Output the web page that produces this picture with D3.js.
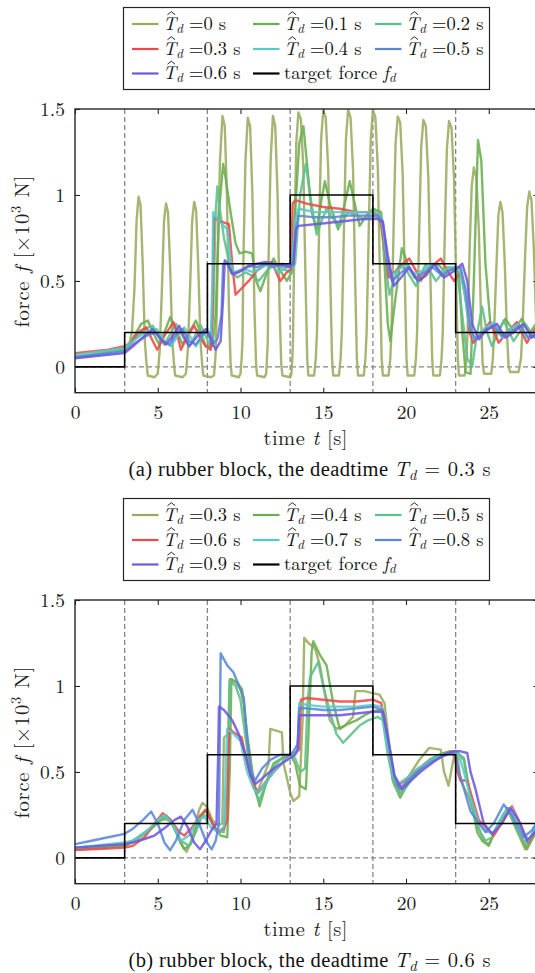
<!DOCTYPE html>
<html><head><meta charset="utf-8">
<script src="https://cdn.jsdelivr.net/npm/d3@7"></script>
<style>body{margin:0;background:#fff}svg{display:block}</style>
</head><body><svg id="c" width="535" height="973"></svg>
<script>
// ---------- data ----------
const xTicks = [0, 5, 10, 15, 20, 25];
const yTicks = [0, 0.5, 1, 1.5];
const yTickLabels = ["0", "0.5", "1", "1.5"];
const stepTimes = [3, 8, 13, 18, 23];
const targetT = [0, 3, 8, 13, 18, 23, 28];
const targetF = [0, 0.2, 0.6, 1.0, 0.6, 0.2, 0.2];
const seriesColors = ["#9aab5e", "#69ae4f", "#5dbf8b", "#f04848", "#56c9c9", "#5887d8", "#7058e0"];
const labelsA = ["0", "0.1", "0.2", "0.3", "0.4", "0.5", "0.6"];
const labelsB = ["0.3", "0.4", "0.5", "0.6", "0.7", "0.8", "0.9"];
const captionA = "0.3";
const captionB = "0.6";

// panel (a)
const aTd00 = [[0,0.06],[1,0.07],[2,0.09],[3,0.11],[3.3,0.14],[3.44,0.2],[3.59,0.45],[3.72,0.85],[3.84,0.99],[3.96,0.94],[4.09,0.6],[4.22,0.15],[4.32,0.02],[4.4,-0.05],[4.8,-0.06],[5.0,-0.04],[5.08,0.05],[5.12,0.1],[5.25,0.45],[5.38,0.85],[5.5,0.95],[5.62,0.9],[5.75,0.58],[5.88,0.15],[5.98,0.02],[6.05,-0.05],[6.5,-0.06],[6.7,-0.04],[6.78,0.05],[6.82,0.1],[6.95,0.45],[7.08,0.85],[7.2,0.96],[7.32,0.91],[7.45,0.58],[7.58,0.15],[7.68,0.02],[7.75,-0.05],[8.2,-0.06],[8.4,-0.05],[8.48,0.05],[8.52,0.12],[8.62,0.6],[8.76,1.2],[8.91,1.46],[9.05,1.4],[9.18,1.0],[9.3,0.35],[9.4,0.02],[9.47,-0.05],[9.9,-0.06],[10.0,-0.04],[10.07,0.05],[10.12,0.15],[10.17,0.6],[10.3,1.2],[10.44,1.45],[10.58,1.4],[10.72,1.0],[10.84,0.35],[10.94,0.02],[11.0,-0.05],[11.45,-0.06],[11.55,-0.04],[11.6,0.05],[11.65,0.15],[11.69,0.6],[11.82,1.2],[11.96,1.46],[12.1,1.4],[12.24,1.0],[12.36,0.35],[12.46,0.02],[12.53,-0.05],[13.0,-0.06],[13.08,-0.04],[13.13,0.05],[13.17,0.15],[13.25,0.7],[13.37,1.3],[13.5,1.48],[13.65,1.44],[13.8,1.15],[13.93,0.5],[14.03,0.05],[14.1,-0.05],[14.45,-0.05],[14.55,0.05],[14.62,0.2],[14.75,0.8],[14.87,1.32],[15.0,1.49],[15.15,1.45],[15.3,1.15],[15.43,0.5],[15.53,0.05],[15.6,-0.05],[15.95,-0.05],[16.05,0.05],[16.12,0.2],[16.25,0.8],[16.37,1.32],[16.5,1.495],[16.65,1.45],[16.8,1.15],[16.93,0.5],[17.03,0.05],[17.1,-0.05],[17.45,-0.05],[17.55,0.05],[17.62,0.2],[17.75,0.8],[17.87,1.32],[18.0,1.495],[18.15,1.45],[18.3,1.15],[18.43,0.5],[18.53,0.05],[18.6,-0.05],[18.95,-0.05],[19.05,0.05],[19.12,0.2],[19.25,0.8],[19.37,1.3],[19.5,1.456],[19.65,1.42],[19.8,1.12],[19.93,0.5],[20.03,0.05],[20.1,-0.05],[20.5,-0.05],[20.6,0.05],[20.67,0.2],[20.8,0.8],[20.92,1.28],[21.05,1.437],[21.2,1.4],[21.35,1.1],[21.48,0.5],[21.58,0.05],[21.65,-0.05],[22.05,-0.05],[22.15,0.05],[22.22,0.2],[22.35,0.8],[22.47,1.27],[22.6,1.43],[22.75,1.39],[22.9,1.1],[23.03,0.5],[23.13,0.05],[23.2,-0.05],[23.55,-0.05],[23.65,0.05],[23.72,0.2],[23.85,0.7],[23.97,1.05],[24.1,1.16],[24.25,1.1],[24.4,0.8],[24.53,0.3],[24.63,0.02],[24.72,-0.04],[25.15,-0.04],[25.25,0.05],[25.32,0.2],[25.47,0.6],[25.58,0.88],[25.7,0.96],[25.83,0.9],[25.97,0.6],[26.1,0.2],[26.2,0.0],[26.3,-0.03],[26.8,-0.03],[26.95,0.05],[27.05,0.25],[27.2,0.65],[27.32,0.93],[27.45,1.02],[27.58,0.97],[27.72,0.7],[27.85,0.3],[27.95,0.05],[28,0.0]];
const aTd01 = [[0,0.06],[1,0.07],[2,0.085],[3,0.1],[3.4,0.15],[4.0,0.25],[4.4,0.27],[4.7,0.2],[5.1,0.13],[5.4,0.2],[5.75,0.29],[6.1,0.22],[6.5,0.13],[6.9,0.2],[7.3,0.27],[7.6,0.2],[7.9,0.12],[8.3,0.12],[8.5,0.3],[8.7,0.9],[8.95,1.18],[9.1,1.1],[9.4,0.9],[9.7,0.72],[9.95,0.66],[10.3,0.67],[10.7,0.66],[10.95,0.5],[11.2,0.44],[11.6,0.55],[12.0,0.63],[12.4,0.56],[12.8,0.5],[13.1,0.55],[13.3,0.9],[13.55,1.3],[13.8,1.4],[14.0,1.2],[14.3,0.9],[14.6,0.8],[14.85,0.95],[15.1,1.08],[15.4,0.95],[15.9,0.8],[16.3,0.95],[16.6,1.08],[16.9,0.95],[17.2,0.82],[17.6,0.88],[18.0,0.92],[18.5,0.9],[18.7,0.6],[18.9,0.25],[19.05,0.15],[19.3,0.35],[19.75,0.69],[20.1,0.6],[20.5,0.52],[20.9,0.5],[21.4,0.58],[21.9,0.6],[22.4,0.55],[22.9,0.58],[23.2,0.55],[23.4,0.2],[23.6,-0.03],[23.9,-0.04],[24.1,0.5],[24.35,1.32],[24.55,1.2],[24.8,0.6],[25.1,0.25],[25.5,0.2],[26.0,0.28],[26.5,0.21],[27.0,0.28],[27.5,0.2],[28,0.27]];
const aTd02 = [[0,0.06],[3,0.1],[3.5,0.15],[4.2,0.22],[4.7,0.24],[5.0,0.19],[5.4,0.13],[5.8,0.2],[6.1,0.25],[6.5,0.18],[6.9,0.12],[7.3,0.19],[7.6,0.24],[7.9,0.18],[8.15,0.12],[8.35,0.3],[8.5,0.9],[8.6,1.05],[8.75,0.92],[9.0,0.75],[9.4,0.57],[9.8,0.52],[10.3,0.55],[10.7,0.53],[11.1,0.5],[11.6,0.56],[12.1,0.6],[12.6,0.57],[13.0,0.55],[13.3,0.6],[13.6,1.0],[13.95,1.18],[14.2,1.0],[14.6,0.77],[14.9,0.85],[15.2,0.92],[15.6,0.86],[16.0,0.82],[16.5,0.9],[17.0,0.88],[17.5,0.86],[18.0,0.88],[18.5,0.86],[18.75,0.6],[19.0,0.42],[19.6,0.6],[20.1,0.55],[20.6,0.47],[21.2,0.6],[21.8,0.5],[22.5,0.58],[23.1,0.55],[23.4,0.3],[23.7,0.05],[24.0,0.0],[24.3,0.2],[24.6,0.35],[24.9,0.2],[25.2,0.12],[25.9,0.27],[26.5,0.15],[27.2,0.25],[27.8,0.17],[28,0.19]];
const aTd03 = [[0,0.08],[1,0.09],[2,0.1],[3,0.12],[3.4,0.14],[3.8,0.2],[4.3,0.23],[4.6,0.17],[4.97,0.1],[5.4,0.18],[5.95,0.26],[6.15,0.2],[6.4,0.1],[6.8,0.18],[7.2,0.24],[7.5,0.18],[7.9,0.12],[8.2,0.1],[8.3,0.3],[8.4,0.87],[8.7,0.85],[9.3,0.83],[9.5,0.6],[9.7,0.42],[10.0,0.45],[10.5,0.5],[11.0,0.56],[11.6,0.6],[11.9,0.61],[12.2,0.54],[12.4,0.5],[12.8,0.55],[13.05,0.57],[13.15,0.95],[13.3,0.97],[14.0,0.95],[15.0,0.93],[16.0,0.92],[17.0,0.9],[18.0,0.9],[18.4,0.88],[18.7,0.7],[18.95,0.52],[19.4,0.56],[19.8,0.6],[20.2,0.63],[20.6,0.56],[20.9,0.51],[21.5,0.58],[22.1,0.63],[22.5,0.56],[22.9,0.5],[23.3,0.55],[23.6,0.4],[23.85,0.2],[24.07,0.14],[24.6,0.2],[25.07,0.26],[25.35,0.2],[25.6,0.14],[26.1,0.2],[26.7,0.26],[27.0,0.2],[27.3,0.14],[27.8,0.22],[28,0.25]];
const aTd04 = [[0,0.07],[3,0.11],[3.5,0.15],[4.2,0.2],[4.95,0.22],[5.4,0.15],[5.8,0.12],[6.2,0.18],[6.6,0.23],[7.0,0.17],[7.3,0.12],[7.7,0.18],[8.0,0.22],[8.2,0.15],[8.3,0.5],[8.35,0.9],[8.6,0.86],[9.2,0.8],[9.4,0.62],[9.6,0.55],[10.2,0.57],[10.8,0.55],[11.3,0.58],[11.8,0.6],[12.3,0.55],[12.8,0.58],[13.1,0.58],[13.3,0.85],[13.5,0.92],[14.5,0.9],[15.5,0.9],[16.5,0.9],[17.5,0.9],[18.2,0.9],[18.5,0.87],[18.8,0.65],[19.1,0.53],[19.6,0.57],[20.0,0.6],[20.5,0.54],[21.0,0.56],[21.6,0.6],[22.1,0.55],[22.6,0.58],[23.2,0.58],[23.5,0.45],[23.8,0.25],[24.1,0.16],[24.7,0.22],[25.3,0.26],[25.8,0.17],[26.3,0.22],[26.8,0.25],[27.3,0.17],[27.8,0.2],[28,0.23]];
const aTd05 = [[0,0.055],[3,0.09],[3.5,0.13],[4.3,0.18],[4.9,0.2],[5.3,0.15],[5.7,0.13],[6.2,0.2],[6.5,0.22],[6.9,0.15],[7.3,0.13],[7.8,0.2],[8.1,0.2],[8.4,0.14],[8.6,0.16],[8.85,0.3],[8.95,0.6],[9.2,0.6],[9.5,0.54],[10.0,0.56],[10.5,0.59],[11.0,0.58],[11.5,0.6],[12.0,0.58],[12.5,0.6],[13.0,0.59],[13.2,0.62],[13.35,0.8],[13.5,0.88],[14.5,0.87],[15.5,0.87],[16.5,0.88],[17.5,0.88],[18.3,0.88],[18.6,0.85],[18.9,0.6],[19.15,0.5],[19.6,0.54],[20.1,0.58],[20.6,0.52],[21.1,0.55],[21.6,0.58],[22.2,0.53],[22.8,0.57],[23.3,0.58],[23.6,0.45],[23.9,0.22],[24.2,0.16],[24.7,0.2],[25.3,0.24],[25.8,0.18],[26.3,0.2],[26.9,0.24],[27.4,0.17],[28,0.2]];
const aTd06 = [[0,0.05],[3,0.08],[3.5,0.12],[4.2,0.18],[4.7,0.22],[5.1,0.17],[5.5,0.13],[5.9,0.18],[6.3,0.24],[6.6,0.17],[6.9,0.12],[7.4,0.18],[7.9,0.22],[8.2,0.16],[8.5,0.1],[8.8,0.15],[8.95,0.4],[9.05,0.62],[9.25,0.6],[9.5,0.54],[9.9,0.55],[10.4,0.58],[11.0,0.6],[11.5,0.61],[12.0,0.6],[12.5,0.59],[13.0,0.58],[13.2,0.6],[13.35,0.8],[13.5,0.82],[14.5,0.83],[15.5,0.84],[16.5,0.85],[17.5,0.86],[18.3,0.86],[18.6,0.84],[18.9,0.65],[19.25,0.47],[19.7,0.52],[20.2,0.58],[20.7,0.5],[21.2,0.53],[21.7,0.6],[22.3,0.52],[22.8,0.55],[23.4,0.6],[23.7,0.5],[24.0,0.25],[24.4,0.16],[24.9,0.22],[25.5,0.25],[26.0,0.17],[26.5,0.2],[27.1,0.25],[27.6,0.17],[28,0.2]];

// panel (b)
const bTd03 = [[0,0.05],[1,0.055],[2,0.06],[3,0.07],[3.5,0.09],[4.2,0.14],[4.9,0.2],[5.5,0.25],[5.9,0.2],[6.4,0.08],[6.75,0.035],[7.1,0.12],[7.5,0.28],[7.7,0.32],[7.95,0.3],[8.3,0.22],[8.6,0.19],[8.9,0.2],[9.0,0.7],[9.25,0.72],[9.35,1.04],[9.7,1.02],[10.0,0.98],[10.2,0.9],[10.5,0.55],[10.95,0.37],[11.3,0.45],[11.7,0.55],[11.8,0.75],[12.5,0.73],[12.6,0.55],[13.0,0.38],[13.2,0.33],[13.55,0.36],[13.75,0.8],[13.85,1.28],[14.1,1.25],[14.5,1.22],[14.8,1.12],[15.1,0.95],[15.4,0.8],[15.8,0.75],[16.3,0.77],[16.8,0.82],[16.95,0.97],[17.5,0.97],[17.9,0.96],[18.4,0.95],[18.7,0.9],[19.0,0.65],[19.3,0.45],[19.65,0.38],[20.2,0.48],[20.8,0.57],[21.4,0.64],[22.1,0.63],[22.3,0.5],[22.57,0.42],[22.96,0.62],[23.1,0.6],[23.3,0.45],[23.8,0.35],[24.3,0.2],[24.7,0.1],[25.0,0.08],[25.5,0.18],[26.1,0.29],[26.6,0.18],[27.2,0.05],[27.7,0.15],[28,0.22]];
const bTd04 = [[0,0.05],[3,0.07],[3.5,0.1],[4.5,0.16],[5.2,0.22],[5.7,0.23],[6.2,0.13],[6.6,0.05],[7.0,0.08],[7.5,0.22],[7.85,0.28],[8.3,0.2],[8.8,0.13],[9.2,0.12],[9.35,0.5],[9.45,1.04],[9.8,1.02],[10.1,0.98],[10.4,0.72],[10.8,0.45],[11.15,0.3],[11.6,0.45],[12.0,0.55],[12.5,0.58],[13.0,0.6],[13.3,0.55],[13.6,0.42],[13.95,0.4],[14.1,0.7],[14.3,1.2],[14.4,1.26],[14.8,1.18],[15.2,1.12],[15.6,0.9],[16.0,0.75],[16.5,0.78],[17.0,0.8],[17.5,0.83],[17.9,0.85],[18.5,0.86],[18.8,0.72],[19.2,0.45],[19.65,0.35],[20.2,0.45],[20.8,0.52],[21.4,0.57],[22.0,0.6],[22.6,0.62],[23.0,0.62],[23.5,0.58],[23.9,0.35],[24.3,0.15],[24.6,0.1],[25.0,0.07],[25.6,0.2],[26.2,0.29],[26.7,0.17],[27.3,0.05],[27.8,0.14],[28,0.2]];
const bTd05 = [[0,0.06],[3,0.08],[3.5,0.1],[4.5,0.17],[5.3,0.24],[5.9,0.2],[6.4,0.1],[6.9,0.07],[7.3,0.15],[7.7,0.25],[8.1,0.24],[8.6,0.15],[9.0,0.15],[9.25,0.5],[9.35,1.03],[9.7,1.0],[10.0,0.92],[10.3,0.7],[10.7,0.45],[11.1,0.33],[11.5,0.42],[12.0,0.53],[12.5,0.58],[13.0,0.6],[13.3,0.58],[13.6,0.5],[13.9,0.52],[14.05,0.9],[14.2,1.05],[14.7,1.14],[15.0,1.0],[15.4,0.85],[15.8,0.72],[16.2,0.67],[16.7,0.72],[17.2,0.77],[17.7,0.8],[18.3,0.82],[18.6,0.8],[18.9,0.6],[19.3,0.42],[19.7,0.37],[20.3,0.45],[21.0,0.53],[21.6,0.58],[22.3,0.61],[23.0,0.62],[23.5,0.57],[23.9,0.35],[24.3,0.18],[24.8,0.1],[25.2,0.12],[25.7,0.22],[26.2,0.28],[26.8,0.14],[27.3,0.08],[27.8,0.17],[28,0.22]];
const bTd06 = [[0,0.045],[1,0.05],[2,0.055],[3,0.06],[3.5,0.07],[4.2,0.12],[4.8,0.2],[5.3,0.26],[5.8,0.22],[6.3,0.15],[6.6,0.13],[7.1,0.18],[7.6,0.25],[7.95,0.28],[8.3,0.2],[8.6,0.15],[9.0,0.17],[9.2,0.22],[9.27,0.6],[9.32,0.75],[9.6,0.73],[10.07,0.7],[10.4,0.55],[10.8,0.42],[11.08,0.38],[11.5,0.44],[12.0,0.5],[12.5,0.55],[13.0,0.6],[13.3,0.61],[13.55,0.63],[13.65,0.92],[14.0,0.93],[15.0,0.92],[16.0,0.91],[17.0,0.91],[18.0,0.92],[18.5,0.9],[18.8,0.75],[19.2,0.5],[19.5,0.42],[19.9,0.45],[20.5,0.5],[21.2,0.55],[21.9,0.58],[22.5,0.61],[22.9,0.62],[23.1,0.5],[23.3,0.45],[23.7,0.45],[24.0,0.35],[24.4,0.22],[24.8,0.18],[25.3,0.13],[25.9,0.22],[26.4,0.3],[26.9,0.2],[27.4,0.09],[27.9,0.17],[28,0.19]];
const bTd07 = [[0,0.06],[3,0.09],[3.5,0.1],[4.3,0.15],[5.0,0.22],[5.4,0.25],[5.9,0.2],[6.4,0.1],[6.9,0.13],[7.4,0.22],[7.8,0.24],[8.2,0.18],[8.6,0.15],[9.0,0.18],[9.15,0.6],[9.2,0.75],[9.6,0.72],[10.0,0.68],[10.4,0.5],[10.8,0.4],[11.1,0.38],[11.6,0.45],[12.2,0.52],[12.7,0.57],[13.2,0.6],[13.45,0.62],[13.55,0.9],[14.0,0.89],[15.0,0.88],[16.0,0.88],[17.0,0.88],[18.0,0.89],[18.5,0.88],[18.8,0.7],[19.2,0.48],[19.5,0.43],[20.0,0.46],[20.7,0.52],[21.4,0.56],[22.0,0.59],[22.7,0.61],[23.2,0.6],[23.5,0.5],[23.9,0.35],[24.4,0.2],[24.9,0.15],[25.3,0.15],[25.9,0.26],[26.4,0.29],[26.9,0.18],[27.4,0.1],[27.9,0.18],[28,0.2]];
const bTd08 = [[0,0.08],[1,0.1],[2,0.12],[3,0.14],[3.5,0.17],[4.1,0.22],[4.6,0.27],[5.0,0.2],[5.4,0.09],[5.75,0.045],[6.1,0.1],[6.6,0.22],[7.1,0.28],[7.5,0.2],[7.9,0.1],[8.26,0.05],[8.5,0.1],[8.7,0.2],[8.76,0.8],[8.8,1.19],[9.2,1.12],[9.57,1.08],[10.0,0.98],[10.2,0.93],[10.4,0.7],[10.65,0.5],[10.88,0.45],[11.3,0.52],[11.8,0.57],[12.4,0.6],[13.0,0.6],[13.2,0.62],[13.45,0.66],[13.55,0.87],[14.0,0.87],[15.0,0.86],[16.0,0.86],[17.0,0.87],[18.0,0.88],[18.6,0.86],[18.9,0.7],[19.3,0.48],[19.6,0.4],[20.0,0.44],[20.7,0.5],[21.4,0.55],[22.0,0.58],[22.7,0.61],[23.0,0.6],[23.2,0.5],[23.45,0.42],[23.9,0.27],[24.5,0.19],[24.8,0.15],[25.3,0.2],[25.9,0.31],[26.4,0.25],[27.1,0.12],[27.6,0.16],[28,0.22]];
const bTd09 = [[0,0.06],[3,0.08],[3.5,0.09],[4.2,0.11],[4.8,0.13],[5.5,0.18],[6.0,0.22],[6.4,0.24],[6.8,0.18],[7.2,0.09],[7.55,0.05],[7.9,0.1],[8.3,0.17],[8.55,0.2],[8.65,0.6],[8.7,0.88],[9.0,0.86],[9.5,0.8],[9.9,0.72],[10.3,0.6],[10.6,0.48],[10.9,0.43],[11.4,0.47],[12.0,0.52],[12.5,0.55],[13.0,0.58],[13.3,0.6],[13.45,0.63],[13.55,0.83],[14.0,0.83],[15.0,0.83],[16.0,0.83],[17.0,0.84],[18.0,0.85],[18.6,0.85],[18.9,0.7],[19.3,0.48],[19.75,0.4],[20.3,0.45],[21.0,0.51],[21.7,0.56],[22.3,0.6],[22.9,0.62],[23.3,0.62],[23.7,0.61],[23.9,0.5],[24.2,0.4],[24.7,0.2],[25.2,0.14],[25.8,0.2],[26.3,0.29],[26.8,0.22],[27.3,0.1],[27.8,0.15],[28,0.2]];

// ---------- drawing ----------
const svg = d3.select("#c");
svg.append("rect").attr("width", 535).attr("height", 973).attr("fill", "#fff");
const LM = "'Latin Modern Roman', 'Liberation Serif', serif";
const TIMES = "'Liberation Serif', 'Latin Modern Roman', serif";
const AX = "#262626";

function drawPanel(off, series, labels, capVal, capLetter, id) {
  const left = 75, right = 538.4, top = 109 + off, bottom = 392.7 + off;
  const x = d3.scaleLinear().domain([0, 28]).range([left, right]);
  const y = d3.scaleLinear().domain([-0.15, 1.5]).range([bottom, top]);
  const g = svg.append("g");
  g.append("clipPath").attr("id", "clip" + id).append("rect")
    .attr("x", left).attr("y", top).attr("width", right - left).attr("height", bottom - top);

  const dash = g.append("g").attr("stroke", "#858585").attr("stroke-width", 1.3).attr("stroke-dasharray", "5,3");
  dash.selectAll("line.v").data(stepTimes).join("line").attr("class", "v")
    .attr("x1", d => x(d)).attr("x2", d => x(d)).attr("y1", top).attr("y2", bottom);
  dash.append("line").attr("x1", left).attr("x2", right).attr("y1", y(0)).attr("y2", y(0));

  const line = d3.line().x(d => x(d[0])).y(d => y(d[1]));
  const pg = g.append("g").attr("clip-path", `url(#clip${id})`);
  series.forEach((s, i) => {
    pg.append("path").datum(s).attr("d", line).attr("fill", "none")
      .attr("stroke", seriesColors[i]).attr("stroke-width", 2.4)
      .attr("stroke-opacity", 0.88).attr("stroke-linejoin", "round");
  });
  const tgt = targetT.map((t, i) => [t, targetF[i]]);
  pg.append("path").datum(tgt).attr("d", d3.line().curve(d3.curveStepAfter).x(d => x(d[0])).y(d => y(d[1])))
    .attr("fill", "none").attr("stroke", "#000").attr("stroke-width", 1.6);

  const axB = g.append("g").attr("transform", `translate(0,${bottom})`)
    .call(d3.axisBottom(x).tickValues(xTicks).tickSizeInner(-5).tickSizeOuter(0).tickPadding(12).tickFormat(d3.format("d")));
  const axT = g.append("g").attr("transform", `translate(0,${top})`)
    .call(d3.axisTop(x).tickValues(xTicks).tickSizeInner(-5).tickSizeOuter(0).tickFormat(""));
  const axL = g.append("g").attr("transform", `translate(${left},0)`)
    .call(d3.axisLeft(y).tickValues(yTicks).tickSizeInner(-5).tickSizeOuter(0).tickPadding(10).tickFormat((d, i) => yTickLabels[i]));
  const axR = g.append("g").attr("transform", `translate(${right},0)`)
    .call(d3.axisRight(y).tickValues(yTicks).tickSizeInner(-5).tickSizeOuter(0).tickFormat(""));
  [axB, axT, axL, axR].forEach(a => {
    a.select(".domain").remove();
    a.selectAll("line").attr("stroke", AX).attr("stroke-width", 1.1);
    a.selectAll("text").style("font-family", LM).style("font-size", "19.5px").attr("fill", "#222");
  });
  g.append("rect").attr("x", left).attr("y", top).attr("width", right - left).attr("height", bottom - top)
    .attr("fill", "none").attr("stroke", AX).attr("stroke-width", 1.4);

  // y label
  const yl = g.append("text").attr("transform", `translate(29,${251.5 + off}) rotate(-90)`)
    .attr("text-anchor", "middle").style("font-family", LM).style("font-size", "20.5px").attr("fill", "#222")
    .attr("textLength", 152).attr("lengthAdjust", "spacing");
  yl.append("tspan").text("force ");
  yl.append("tspan").attr("font-style", "italic").text("f");
  yl.append("tspan").text(" [\u00d710");
  yl.append("tspan").style("font-size", "14.5px").attr("dy", -8).text("3");
  yl.append("tspan").attr("dy", 8).text(" N]");

  // x label
  const xl = g.append("text").attr("x", 305.5).attr("y", 445 + off).attr("text-anchor", "middle")
    .style("font-family", LM).style("font-size", "20.5px").attr("fill", "#222")
    .attr("textLength", 84).attr("lengthAdjust", "spacing");
  xl.append("tspan").text("time ");
  xl.append("tspan").attr("font-style", "italic").text("t");
  xl.append("tspan").text(" [s]");

  // caption
  const cp = g.append("text").attr("x", 309.5).attr("y", 475.5 + off).attr("text-anchor", "middle")
    .style("font-family", TIMES).style("font-size", "20.5px").attr("fill", "#111")
    .attr("textLength", 362).attr("lengthAdjust", "spacing");
  cp.append("tspan").text(`(${capLetter}) rubber block, the deadtime `);
  cp.append("tspan").style("font-family", LM).attr("font-style", "italic").text("T");
  cp.append("tspan").style("font-family", LM).attr("font-style", "italic").style("font-size", "14.5px").attr("dy", 4).text("d");
  cp.append("tspan").style("font-family", LM).attr("dy", -4).text(` = ${capVal} s`);

  // legend
  const lg = g.append("g");
  lg.append("rect").attr("x", 123.5).attr("y", 7.5 + off).attr("width", 366).attr("height", 82)
    .attr("fill", "#fff").attr("stroke", AX).attr("stroke-width", 1.2);
  const rowsY = [24, 49, 73.5];
  const colLine = [132, 253, 375];
  const entries = labels.map((l, i) => ({ lab: l, color: seriesColors[i] }));
  entries.push({ lab: null, color: "#000" });
  entries.forEach((e, i) => {
    const r = Math.floor(i / 3), c = i % 3;
    const cy = rowsY[r] + off, lx = colLine[c];
    lg.append("line").attr("x1", lx).attr("x2", lx + 26.5).attr("y1", cy).attr("y2", cy)
      .attr("stroke", e.color).attr("stroke-width", 2.2);
    const tx = lx + 31, ty = cy + 5.5;
    const t = lg.append("text").attr("x", tx).attr("y", ty).style("font-family", LM)
      .style("font-size", "18.5px").attr("fill", "#111");
    if (e.lab === null) {
      t.append("tspan").text("target force ");
      t.append("tspan").attr("font-style", "italic").text("f");
      t.append("tspan").attr("font-style", "italic").style("font-size", "13px").attr("dy", 3).text("d");
    } else {
      t.append("tspan").attr("font-style", "italic").text("T");
      t.append("tspan").attr("font-style", "italic").style("font-size", "13px").attr("dy", 3).text("d");
      t.append("tspan").attr("dy", -3).text(" =" + e.lab + " s");
      lg.append("path").attr("d", `M${tx + 4.5},${ty - 14.8}L${tx + 8.3},${ty - 17.8}L${tx + 12.1},${ty - 14.8}`)
        .attr("fill", "none").attr("stroke", "#111").attr("stroke-width", 0.9);
    }
  });
}

drawPanel(0, [aTd00, aTd01, aTd02, aTd03, aTd04, aTd05, aTd06], labelsA, captionA, "a", "A");
drawPanel(491, [bTd03, bTd04, bTd05, bTd06, bTd07, bTd08, bTd09], labelsB, captionB, "b", "B");
</script></body></html>
